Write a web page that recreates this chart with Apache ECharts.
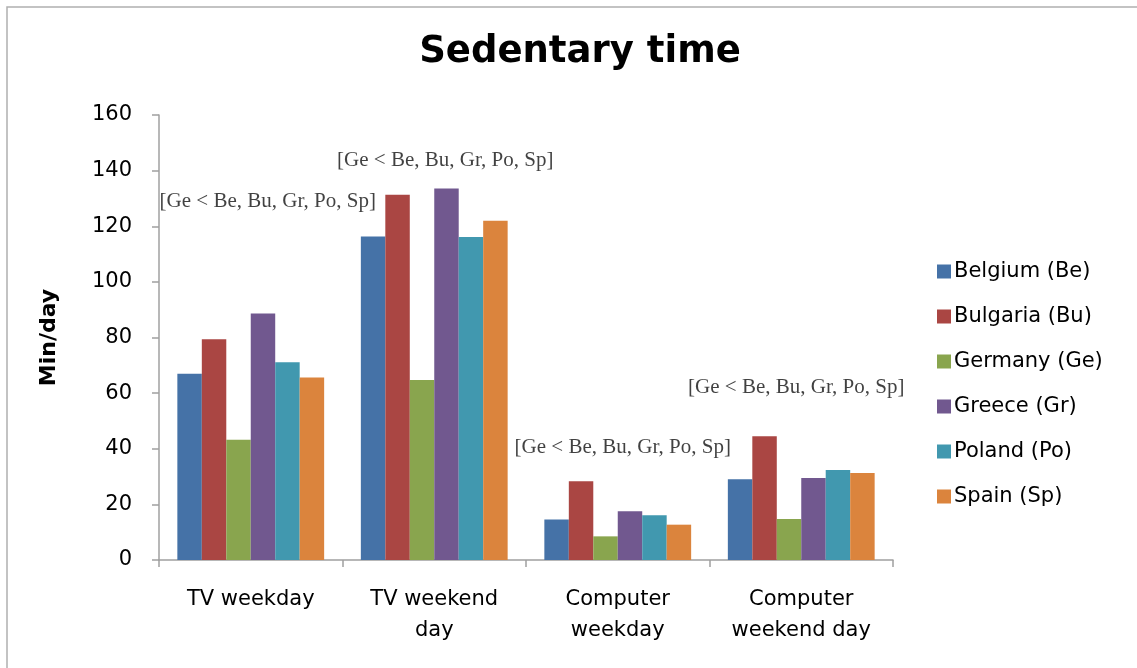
<!DOCTYPE html>
<html>
<head>
<meta charset="utf-8">
<script src="https://cdn.jsdelivr.net/npm/echarts@6/dist/echarts.min.js"></script>
<style>
html,body{margin:0;padding:0;background:#fff;}
#chart{width:1137px;height:668px;}
</style>
</head>
<body>
<div id="chart"></div>
<script>
var categories = ['TV weekday', 'TV weekend\nday', 'Computer\nweekday', 'Computer\nweekend day'];
var seriesNames = ['Belgium (Be)', 'Bulgaria (Bu)', 'Germany (Ge)', 'Greece (Gr)', 'Poland (Po)', 'Spain (Sp)'];
var belgium  = [67, 116.3, 14.6, 29.0];
var bulgaria = [79.4, 131.3, 28.3, 44.5];
var germany  = [43.2, 64.7, 8.5, 14.7];
var greece   = [88.6, 133.6, 17.5, 29.5];
var poland   = [71.1, 116.1, 16.1, 32.4];
var spain    = [65.6, 122, 12.7, 31.3];
var annotationText = ['[Ge < Be, Bu, Gr, Po, Sp]', '[Ge < Be, Bu, Gr, Po, Sp]', '[Ge < Be, Bu, Gr, Po, Sp]', '[Ge < Be, Bu, Gr, Po, Sp]'];
var annotationY = [129, 143.5, 40.6, 62];
var yTicks = [0, 20, 40, 60, 80, 100, 120, 140, 160];

var colors = ['#4572A7', '#AA4643', '#89A54E', '#71588F', '#4198AF', '#DB843D'];
var allValues = [belgium, bulgaria, germany, greece, poland, spain];
var annotationOffsets = [[17, 0], [11, 0], [5, 0], [-5, 0]];
var sansFont = 'DejaVu Sans';

var chart = echarts.init(document.getElementById('chart'));
var series = seriesNames.map(function (name, i) {
  return {
    name: name,
    type: 'bar',
    data: allValues[i],
    barGap: '0%',
    barCategoryGap: '20%',
    itemStyle: { color: colors[i] }
  };
});
series.push({
  type: 'scatter',
  name: 'annotations',
  symbolSize: 0,
  silent: true,
  data: annotationY.map(function (v, i) {
    return {
      value: [i, v],
      label: { offset: annotationOffsets[i], formatter: annotationText[i] }
    };
  }),
  label: {
    show: true,
    position: 'inside',
    fontFamily: 'Liberation Serif',
    fontSize: 21,
    color: '#111'
  },
  z: 5
});

chart.setOption({
  animation: false,
  backgroundColor: '#fff',
  title: {
    text: 'Sedentary time',
    left: 575,
    textAlign: 'center',
    top: 29,
    textStyle: { fontFamily: sansFont, fontWeight: 'bold', fontSize: 37, color: '#000' }
  },
  graphic: [{
    type: 'polyline',
    shape: { points: [[7, 700], [7, 7], [1200, 7]] },
    style: { stroke: '#b0b0b0', lineWidth: 1.5, fill: null },
    silent: true
  }],
  legend: {
    orient: 'vertical',
    left: 932,
    top: 256,
    itemWidth: 14,
    itemHeight: 14,
    itemGap: 24,
    data: seriesNames,
    icon: 'rect',
    textStyle: { fontFamily: sansFont, fontSize: 21, color: '#000', lineHeight: 21, padding: [0, 0, 0, -2] }
  },
  grid: { left: 159, right: 244, top: 115, bottom: 108 },
  xAxis: {
    type: 'category',
    data: categories,
    axisLine: { lineStyle: { color: '#a0a0a0', width: 1.5 } },
    axisTick: { show: true, length: 7, lineStyle: { color: '#a0a0a0', width: 1.5 } },
    axisLabel: {
      margin: 24,
      fontFamily: sansFont,
      fontSize: 21,
      lineHeight: 31,
      color: '#000'
    }
  },
  yAxis: {
    type: 'value',
    min: 0,
    max: 160,
    interval: 20,
    name: 'Min/day',
    nameLocation: 'middle',
    nameGap: 99,
    nameTextStyle: { fontFamily: sansFont, fontWeight: 'bold', fontSize: 22, color: '#000' },
    splitLine: { show: false },
    axisLine: { show: true, lineStyle: { color: '#a0a0a0', width: 1.5 } },
    axisTick: { show: true, length: 7, lineStyle: { color: '#a0a0a0', width: 1.5 } },
    axisLabel: {
      margin: 27,
      fontFamily: sansFont,
      fontSize: 21,
      color: '#000',
      formatter: function (v) { return yTicks.indexOf(v) >= 0 ? String(v) : ''; }
    }
  },
  series: series
});
</script>
</body>
</html>
